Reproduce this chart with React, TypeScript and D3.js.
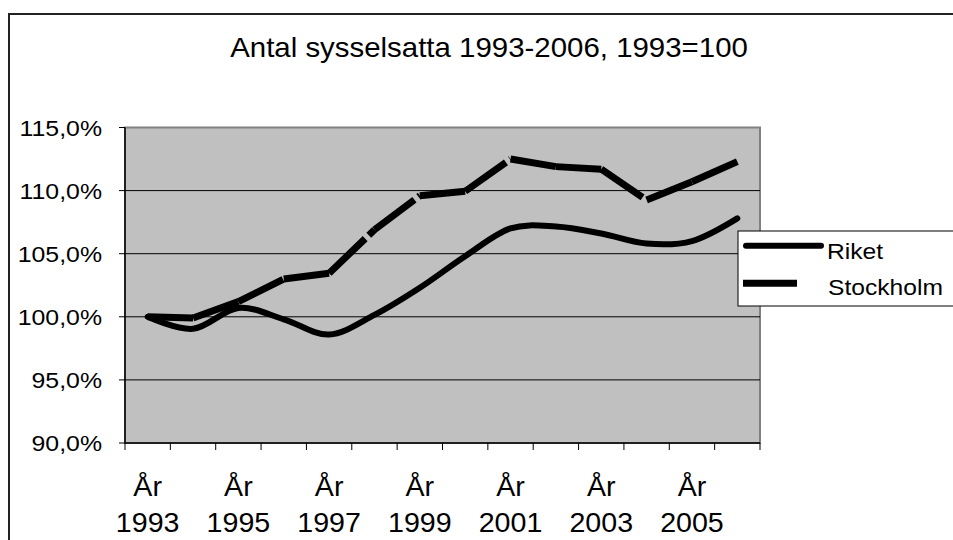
import React from 'react';
import * as d3 from 'd3';

const years = ['1993', '1994', '1995', '1996', '1997', '1998', '1999', '2000', '2001', '2002', '2003', '2004', '2005', '2006'];
const riket = [100, 99.05, 100.7, 99.8, 98.6, 100.15, 102.3, 104.8, 107.0, 107.15, 106.6, 105.8, 106.0, 107.8];
const stockholm = [100, 99.9, 101.2, 103.0, 103.45, 106.9, 109.6, 109.95, 112.5, 111.9, 111.7, 109.25, 110.7, 112.3];
const yTicks = [90, 95, 100, 105, 110, 115];
const title = 'Antal sysselsatta 1993-2006, 1993=100';

const W = 953;
const H = 540;
const plot = { left: 125, right: 760, top: 127.5, bottom: 443 };
const font = '"Liberation Sans", Arial, sans-serif';

const fmt = (v: number) => v.toFixed(1).replace('.', ',') + '%';

export default function App() {
  const x = d3.scaleBand<string>().domain(years).range([plot.left, plot.right]).padding(0);
  const y = d3.scaleLinear().domain([90, 115]).range([plot.bottom, plot.top]);
  const cx = (i: number) => (x(years[i]) as number) + x.bandwidth() / 2;

  const smooth = d3.line<number>()
    .x((_, i) => cx(i))
    .y(d => y(d))
    .curve(d3.curveCardinal.tension(0));

  // stockholm is drawn segment by segment, like the original's restarting dashes
  const segs = stockholm.slice(1).map((v, i) => {
    const pts: [number, number][] = [[cx(i), y(stockholm[i])], [cx(i + 1), y(v)]];
    return d3.line()(pts) as string;
  });

  const boundaries = d3.range(years.length + 1).map(i => plot.left + i * x.step());

  return (
    <svg width={W} height={H} style={{ position: 'absolute', left: 0, top: 0 }} fontFamily={font}>
      <rect x={0} y={0} width={W} height={H} fill="#fff" />
      <rect x={9} y={14} width={W + 20} height={H + 20} fill="#fff" stroke="#222" strokeWidth={2} />

      <text transform={`translate(489,56.7) scale(1.09,1)`} textAnchor="middle" fontSize={27} fill="#000">{title}</text>

      {/* plot area */}
      <rect x={plot.left} y={plot.top} width={plot.right - plot.left} height={plot.bottom - plot.top}
        fill="#c0c0c0" stroke="#808080" strokeWidth={2} />
      {yTicks.slice(1, -1).map(t => (
        <line key={t} x1={plot.left} x2={plot.right} y1={y(t)} y2={y(t)} stroke="#000" strokeWidth={1} />
      ))}

      {/* y axis */}
      <line x1={plot.left} x2={plot.left} y1={plot.top} y2={plot.bottom} stroke="#000" strokeWidth={1.5} />
      {yTicks.map(t => (
        <g key={t}>
          <line x1={plot.left - 6} x2={plot.left} y1={y(t)} y2={y(t)} stroke="#000" />
          <text transform={`translate(102,${y(t) + 8}) scale(1.13,1)`} textAnchor="end" fontSize={22} fill="#000">
            {fmt(t)}
          </text>
        </g>
      ))}

      {/* x axis */}
      <line x1={plot.left} x2={plot.right} y1={plot.bottom} y2={plot.bottom} stroke="#000" strokeWidth={1.5} />
      {boundaries.map((b, i) => (
        <line key={i} x1={b} x2={b} y1={plot.bottom} y2={plot.bottom + 7} stroke="#000" />
      ))}
      {years.map((yr, i) => i % 2 === 0 ? (
        <g key={yr} transform={`translate(${cx(i)},0) scale(1.06,1)`}>
          <text x={0} y={496.5} textAnchor="middle" fontSize={27} fill="#000">År</text>
          <text x={0} y={532} textAnchor="middle" fontSize={27} fill="#000">{yr}</text>
        </g>
      ) : null)}

      {/* lines */}
      <path d={smooth(riket) as string} fill="none" stroke="#000" strokeWidth={6} strokeLinecap="round" strokeLinejoin="round" />
      {segs.map((d, i) => (
        <path key={i} d={d} fill="none" stroke="#000" strokeWidth={7} strokeDasharray="50 5" strokeLinecap="butt" />
      ))}

      {/* legend */}
      <rect x={738} y={231} width={240} height={75} fill="#fff" stroke="#000" strokeWidth={1} />
      <line x1={746} x2={821} y1={245.7} y2={245.7} stroke="#000" strokeWidth={6} strokeLinecap="round" />
      <text transform="translate(827,259) scale(1.12,1)" fontSize={22} fill="#000">Riket</text>
      <line x1={743} x2={797} y1={283.3} y2={283.3} stroke="#000" strokeWidth={7} />
      <text transform="translate(828,295) scale(1.12,1)" fontSize={22} fill="#000">Stockholm</text>
    </svg>
  );
}
